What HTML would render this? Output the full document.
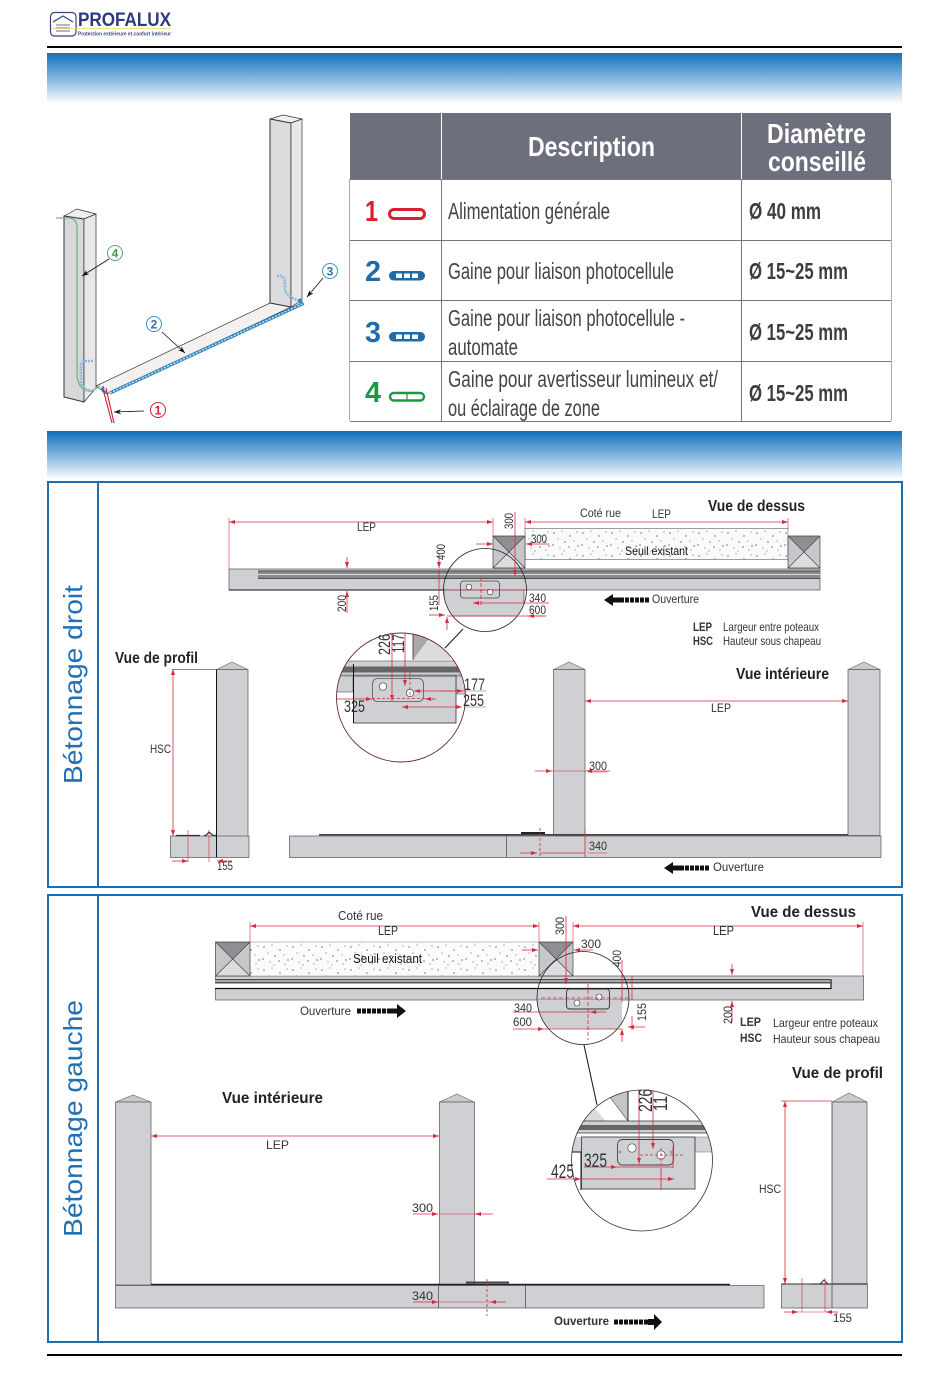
<!DOCTYPE html>
<html><head><meta charset="utf-8"><title>Profalux</title>
<style>
html,body{margin:0;padding:0;background:#fff;width:950px;height:1387px;overflow:hidden}
svg{display:block}
text{font-family:"Liberation Sans Narrow","Liberation Sans",sans-serif;fill:#222}
.w{font-family:"Liberation Sans",sans-serif}
.d{font-size:13px;fill:#333}
.s{font-size:12px;fill:#333}
.b{font-size:16px;font-weight:bold;fill:#222}
.t{font-size:23px;fill:#444}
.m{font-size:23px;font-weight:bold;fill:#3d3d40}
.h{font-size:28px;font-weight:bold;fill:#fff}
.n{font-size:29px;font-weight:bold;font-family:"Liberation Sans",sans-serif}
.r{stroke:#d62c3e;stroke-width:.8;fill:none}
.g{fill:#cfd0d3;stroke:#555;stroke-width:.7}
.k{fill:#cfd0d3;stroke:#222;stroke-width:1}
</style></head><body>
<svg width="950" height="1387" viewBox="0 0 950 1387" xmlns="http://www.w3.org/2000/svg">
<defs>
<linearGradient id="bar" x1="0" y1="0" x2="0" y2="1"><stop offset="0" stop-color="#1470ba"/><stop offset=".45" stop-color="#74aedb"/><stop offset="1" stop-color="#fbfdfe"/></linearGradient>
<marker id="a" markerUnits="userSpaceOnUse" markerWidth="7" markerHeight="5" refX="6" refY="2" orient="auto-start-reverse"><path d="M0,0L6,2L0,4z" fill="#d62c3e"/></marker>
<marker id="ak" markerUnits="userSpaceOnUse" markerWidth="8" markerHeight="6" refX="7" refY="2.5" orient="auto"><path d="M0,0L7,2.5L0,5L2,2.5z" fill="#111"/></marker>
<pattern id="st" width="29" height="23" patternUnits="userSpaceOnUse">
<g fill="#222"><circle cx="3" cy="4" r=".6"/><circle cx="11" cy="2" r=".45"/><circle cx="19" cy="7" r=".6"/><circle cx="26" cy="3" r=".45"/><circle cx="7" cy="10" r=".45"/><circle cx="14" cy="13" r=".6"/><circle cx="23" cy="12" r=".45"/><circle cx="27" cy="17" r=".6"/><circle cx="2" cy="16" r=".6"/><circle cx="9" cy="19" r=".45"/><circle cx="18" cy="18" r=".6"/><circle cx="24" cy="21" r=".45"/><circle cx="13" cy="22" r=".45"/></g></pattern>
<clipPath id="c1"><circle cx="485" cy="590" r="41.5"/></clipPath>
<clipPath id="c2"><circle cx="401" cy="697.5" r="64.5"/></clipPath>
<clipPath id="c3"><ellipse cx="583" cy="998" rx="46" ry="46.5"/></clipPath>
<clipPath id="c4"><circle cx="642" cy="1160.5" r="70.5"/></clipPath>
</defs>

<!-- header -->
<rect x="50.5" y="12.5" width="25.5" height="23.5" rx="4" fill="#fff" stroke="#34457f" stroke-width="1.2"/>
<path d="M53,22L63,16L73,22" fill="none" stroke="#34457f" stroke-width="1.2"/>
<path d="M56,25H70M56,28H70M56,31H70" stroke="#7d89ad" stroke-width="1.2"/>
<path d="M52,28.5H170" stroke="#e6da62" stroke-width=".8"/>
<text class="w" x="78" y="26" font-size="19.5" font-weight="bold" style="fill:#2b3a82" textLength="93" lengthAdjust="spacingAndGlyphs">PROFALUX</text>
<text class="w" x="78" y="35.5" font-size="5.4" font-weight="bold" style="fill:#3a4682" textLength="93" lengthAdjust="spacingAndGlyphs">Protection extérieure et confort intérieur</text>
<rect x="47" y="46" width="855" height="2" fill="#000"/>
<rect x="47" y="53" width="855" height="50" fill="url(#bar)"/>
<rect x="47" y="431" width="855" height="48" fill="url(#bar)"/>

<!-- isometric -->
<g stroke="#333" stroke-width=".7">
<path d="M96,386L270,303L291,307L107,394z" fill="#f3f0ef"/>
<path d="M270,119L283,115L302,119L291,123z" fill="#f0f0f0"/>
<path d="M270,119L291,123V307L270,303z" fill="#dcdcde" stroke-width="1"/>
<path d="M291,123L302,119V300L291,307z" fill="#e8e8ea"/>
<path d="M64,216L77,209L96,214L84,219z" fill="#eee"/>
<path d="M64,216L84,219V402L64,397z" fill="#d8d8da" stroke-width="1"/>
<path d="M84,219L96,214V388L84,402z" fill="#e8e8ea"/>
</g>
<path d="M56,218H70Q77,219 77,228V376Q79,392 92,391L100,386" fill="none" stroke="#6cb77f" stroke-width="1.3"/>
<path d="M93,361H84Q80,362 81,372V383Q84,391 94,391" fill="none" stroke="#8fb8d8" stroke-width="2.6" stroke-dasharray="2 1"/>
<path d="M277,276Q285,274 285,285V290Q287,297 300,301" fill="none" stroke="#8fb8d8" stroke-width="2.6" stroke-dasharray="2 1"/>
<path d="M110,393L302,304L299,299" fill="none" stroke="#2f86c2" stroke-width="3.4"/>
<path d="M110,393L302,304" fill="none" stroke="#cfe4f2" stroke-width="1.4" stroke-dasharray="2 1.5"/>
<path d="M104,387Q100,389 106,393" fill="none" stroke="#2f86c2" stroke-width="2.8"/>
<path d="M103,389L112,423M106,388L114,423" stroke="#c8202e" stroke-width="1.1" fill="none"/>
<g stroke="#111" stroke-width=".8" fill="none">
<path d="M109,259L82,276" marker-end="url(#ak)"/><path d="M162,332L185,353" marker-end="url(#ak)"/>
<path d="M323,278L307,297" marker-end="url(#ak)"/><path d="M144,411L114,412" marker-end="url(#ak)"/>
</g>
<g fill="#fff" stroke-width="1"><circle cx="115" cy="253" r="7.5" stroke="#58a868"/><circle cx="154" cy="324" r="7.5" stroke="#3f8fc4"/><circle cx="330" cy="271" r="7.5" stroke="#3f8fc4"/><circle cx="158" cy="410" r="7.5" stroke="#d0202e"/></g>
<g class="w" font-size="12" font-weight="bold" text-anchor="middle">
<text x="115" y="257.5" class="w" style="fill:#3e9b50">4</text><text x="154" y="328.5" class="w" style="fill:#2874a8">2</text><text x="330" y="275.5" class="w" style="fill:#2874a8">3</text><text x="158" y="414.5" class="w" style="fill:#d0202e">1</text></g>

<!-- table -->
<rect x="350" y="113" width="541" height="66" fill="#6d6f7c"/>
<g stroke="#777" stroke-width="1" fill="none">
<path d="M350,179.5H891M350,240.5H891M350,300.5H891M350,361.5H891M350,421.5H891"/>
<path d="M441.5,113V421M741.5,113V421"/>
<path d="M349.5,179V421M891.5,179V421" stroke="#aaa"/>
</g>
<path d="M441.5,113V179M741.5,113V179" stroke="#fff" stroke-width="1"/>
<text class="h" x="528" y="156" textLength="127" lengthAdjust="spacingAndGlyphs">Description</text>
<text class="h" x="767" y="143" textLength="99" lengthAdjust="spacingAndGlyphs">Diamètre</text>
<text class="h" x="768" y="171" textLength="98" lengthAdjust="spacingAndGlyphs">conseillé</text>
<text class="n" x="365" y="221" style="fill:#d9202f" textLength="13" lengthAdjust="spacingAndGlyphs">1</text>
<text class="n" x="365" y="281" style="fill:#1f6ba8" textLength="16" lengthAdjust="spacingAndGlyphs">2</text>
<text class="n" x="365" y="342" style="fill:#1f6ba8" textLength="16" lengthAdjust="spacingAndGlyphs">3</text>
<text class="n" x="365" y="402" style="fill:#189a44" textLength="16" lengthAdjust="spacingAndGlyphs">4</text>
<rect x="389.5" y="209.5" width="35" height="9" rx="4.5" fill="#fff" stroke="#d9202f" stroke-width="3"/>
<g fill="#1f6ba8"><rect x="389" y="271" width="36" height="9.5" rx="4.7"/><rect x="389" y="332" width="36" height="9.5" rx="4.7"/></g>
<g fill="#fff"><rect x="396" y="273.5" width="6" height="4.5"/><rect x="404" y="273.5" width="6" height="4.5"/><rect x="412" y="273.5" width="6" height="4.5"/><rect x="396" y="334.5" width="6" height="4.5"/><rect x="404" y="334.5" width="6" height="4.5"/><rect x="412" y="334.5" width="6" height="4.5"/></g>
<rect x="390" y="393" width="34" height="7.5" rx="3.7" fill="#fff" stroke="#189a44" stroke-width="2.4"/><path d="M407,393V400" stroke="#189a44" stroke-width="1.2"/>
<text class="t" x="448" y="219" textLength="162" lengthAdjust="spacingAndGlyphs">Alimentation générale</text>
<text class="t" x="448" y="279" textLength="226" lengthAdjust="spacingAndGlyphs">Gaine pour liaison photocellule</text>
<text class="t" x="448" y="326" textLength="237" lengthAdjust="spacingAndGlyphs">Gaine pour liaison photocellule -</text>
<text class="t" x="448" y="355" textLength="70" lengthAdjust="spacingAndGlyphs">automate</text>
<text class="t" x="448" y="387" textLength="270" lengthAdjust="spacingAndGlyphs">Gaine pour avertisseur lumineux et/</text>
<text class="t" x="448" y="416" textLength="152" lengthAdjust="spacingAndGlyphs">ou éclairage de zone</text>
<text class="m" x="749" y="219" textLength="72" lengthAdjust="spacingAndGlyphs">Ø 40 mm</text>
<text class="m" x="749" y="279" textLength="99" lengthAdjust="spacingAndGlyphs">Ø 15~25 mm</text>
<text class="m" x="749" y="340" textLength="99" lengthAdjust="spacingAndGlyphs">Ø 15~25 mm</text>
<text class="m" x="749" y="401" textLength="99" lengthAdjust="spacingAndGlyphs">Ø 15~25 mm</text>

<!-- section frames -->
<g fill="#fff" stroke="#1f6fb0" stroke-width="2">
<rect x="48" y="482" width="854" height="405"/><rect x="48" y="895" width="854" height="447"/></g>
<path d="M98,482V887M98,895V1342" stroke="#1f6fb0" stroke-width="2"/>
<rect x="47" y="1354" width="855" height="2" fill="#000"/>
<text class="w" transform="translate(82,784) rotate(-90)" font-size="26" style="fill:#2170b4" textLength="199" lengthAdjust="spacingAndGlyphs">Bétonnage droit</text>
<text class="w" transform="translate(82,1237) rotate(-90)" font-size="26" style="fill:#2170b4" textLength="237" lengthAdjust="spacingAndGlyphs">Bétonnage gauche</text>

<!-- ===== Section 1: top view ===== -->
<rect x="229" y="569" width="591" height="21" class="g"/>
<path d="M229,590H450" stroke="#111" stroke-width="1"/>
<rect x="258" y="570.5" width="562" height="8" fill="#8a8a8d"/>
<path d="M258,571H820M258,578.5H820" stroke="#333" stroke-width=".8"/><path d="M258,574.5H820" stroke="#ddd" stroke-width="1"/>
<rect x="525" y="528.5" width="263" height="31" fill="#fafafa" stroke="#777" stroke-width=".7"/><rect x="525" y="529" width="263" height="30" fill="url(#st)"/>
<path d="M493,536H525L509,552z" fill="#8f8f93"/><path d="M493,536L509,552L493,568zM525,536V568L509,552z" fill="#c6c7ca"/><path d="M493,568H525L509,552z" fill="#dddde0"/><path d="M493,536H525V568H493zM493,536L525,568M525,536L493,568" fill="none" stroke="#444" stroke-width=".7"/>
<path d="M788,536H820L804,552z" fill="#8f8f93"/><path d="M788,536L804,552L788,568zM820,536V568L804,552z" fill="#c6c7ca"/><path d="M788,568H820L804,552z" fill="#dddde0"/><path d="M788,536H820V568H788zM788,536L820,568M820,536L788,568" fill="none" stroke="#444" stroke-width=".7"/>
<g clip-path="url(#c1)"><rect x="444" y="590" width="80" height="26" class="g" stroke="none"/></g>
<rect x="460.5" y="581" width="39" height="17" rx="3" fill="none" stroke="#444" stroke-width=".8"/>
<circle cx="469" cy="587" r="2.8" fill="#fff" stroke="#333" stroke-width=".6"/><circle cx="490" cy="592" r="2.8" fill="#fff" stroke="#333" stroke-width=".6"/>
<circle cx="485" cy="590" r="41.5" fill="none" stroke="#222" stroke-width=".8"/>
<path d="M463,629L445,648" stroke="#111" stroke-width="1"/>
<g class="r">
<path d="M229,522H493" marker-start="url(#a)" marker-end="url(#a)"/><path d="M525,522H788" marker-start="url(#a)" marker-end="url(#a)"/>
<path d="M229,518V569M493,518V537M525,518V529M788,518V529" stroke-width=".6"/>
<path d="M515,512V576" marker-end="url(#a)"/><path d="M476,544H493" marker-end="url(#a)"/><path d="M549,544H526" marker-end="url(#a)"/>
<path d="M347,557V568" marker-end="url(#a)"/><path d="M347,613V591" marker-end="url(#a)"/>
<path d="M439,553V568" marker-end="url(#a)"/><path d="M439,605V569"/>
<path d="M429,615H445" marker-end="url(#a)"/><path d="M447,630V617" marker-end="url(#a)"/>
<path d="M450,590H526" stroke-dasharray="4 2"/><path d="M481,577V605" stroke-dasharray="4 2"/>
<path d="M473,603H490" marker-start="url(#a)"/><path d="M490,603H549M546,616H528" marker-end="url(#a)"/><path d="M447,616H546"/>
</g>
<text class="s" x="357" y="531" textLength="19" lengthAdjust="spacingAndGlyphs">LEP</text>
<text class="s" x="580" y="517" textLength="41" lengthAdjust="spacingAndGlyphs">Coté rue</text>
<text class="s" x="652" y="518" textLength="19" lengthAdjust="spacingAndGlyphs">LEP</text>
<text class="b" x="708" y="511" textLength="97" lengthAdjust="spacingAndGlyphs">Vue de dessus</text>
<text class="s" x="625" y="555" textLength="63" lengthAdjust="spacingAndGlyphs" style="fill:#111">Seuil existant</text>
<text class="s" x="531" y="543" textLength="16" lengthAdjust="spacingAndGlyphs">300</text>
<text class="s" x="529" y="602" textLength="17" lengthAdjust="spacingAndGlyphs">340</text>
<text class="s" x="529" y="614" textLength="17" lengthAdjust="spacingAndGlyphs">600</text>
<text class="s" transform="translate(513,529) rotate(-90)" textLength="16" lengthAdjust="spacingAndGlyphs">300</text>
<text class="s" transform="translate(445,560) rotate(-90)" textLength="16" lengthAdjust="spacingAndGlyphs">400</text>
<text class="s" transform="translate(346,612) rotate(-90)" textLength="17" lengthAdjust="spacingAndGlyphs">200</text>
<text class="s" transform="translate(438,611) rotate(-90)" textLength="16" lengthAdjust="spacingAndGlyphs">155</text>
<path d="M620,600H649" stroke="#111" stroke-width="5" stroke-dasharray="4 1"/><path d="M604,600L613,594V606z" fill="#111"/><path d="M612,597.5H620V602.5H612z" fill="#111"/>
<text class="s" x="652" y="603" textLength="47" lengthAdjust="spacingAndGlyphs" font-size="11">Ouverture</text>
<text class="s" x="693" y="631" font-weight="bold" textLength="19" lengthAdjust="spacingAndGlyphs">LEP</text>
<text class="s" x="723" y="631" textLength="96" lengthAdjust="spacingAndGlyphs">Largeur entre poteaux</text>
<text class="s" x="693" y="645" font-weight="bold" textLength="20" lengthAdjust="spacingAndGlyphs">HSC</text>
<text class="s" x="723" y="645" textLength="98" lengthAdjust="spacingAndGlyphs">Hauteur sous chapeau</text>

<!-- detail circle 1 -->
<g clip-path="url(#c2)">
<path d="M413,632H434L413,660z" fill="#a9a9ac"/><path d="M434,632L413,660H450V632z" fill="#dcdcde"/><path d="M413,632V660" stroke="#333" stroke-width=".8"/>
<rect x="335" y="661" width="132" height="14" fill="#cfd0d3" stroke="#555" stroke-width=".6"/>
<rect x="335" y="666.5" width="132" height="6" fill="#666"/>
<rect x="335" y="676" width="18" height="16" fill="#cfd0d3" stroke="#555" stroke-width=".6"/>
<rect x="456" y="676" width="12" height="18" fill="#d4d4d6" stroke="#555" stroke-width=".6"/>
<rect x="353.5" y="676" width="102.5" height="47" fill="#cfd0d3" stroke="#333" stroke-width=".8"/>
<rect x="372.5" y="678.5" width="51" height="23" rx="5" fill="#cfd0d3" stroke="#555" stroke-width=".8"/>
<circle cx="383" cy="686.5" r="3.7" fill="#fff" stroke="#444" stroke-width=".7"/><circle cx="410" cy="693" r="3.7" fill="#fff" stroke="#444" stroke-width=".7"/>
<path d="M353.5,664V723" stroke="#111" stroke-width="1"/>
<g class="r">
<path d="M392,633V701" marker-end="url(#a)"/><path d="M405,633V686" marker-end="url(#a)"/>
<path d="M410,672V696" stroke-dasharray="3 2"/><path d="M372,698.5H433" stroke-dasharray="3 2" /><path d="M436,699H425" marker-end="url(#a)"/>
<path d="M336,699H372" marker-end="url(#a)"/>
<path d="M466,691H414" marker-end="url(#a)"/><path d="M440,691H463" marker-end="url(#a)"/><path d="M402,707H462" marker-start="url(#a)" marker-end="url(#a)"/>
</g>
</g>
<circle cx="401" cy="697.5" r="64.5" fill="none" stroke="#6a2430" stroke-width=".9"/>
<path d="M466,691H486M465,707H486" stroke="#999" stroke-width=".7"/>
<text class="d" style="font-size:17px" x="344" y="712" textLength="21" lengthAdjust="spacingAndGlyphs">325</text>
<text class="d" style="font-size:17px" x="464" y="690" textLength="21" lengthAdjust="spacingAndGlyphs">177</text>
<text class="d" style="font-size:17px" x="463" y="706" textLength="21" lengthAdjust="spacingAndGlyphs">255</text>
<text class="d" style="font-size:17px" transform="translate(390,655) rotate(-90)" textLength="21" lengthAdjust="spacingAndGlyphs">226</text>
<text class="d" style="font-size:17px" transform="translate(404,653) rotate(-90)" textLength="19" lengthAdjust="spacingAndGlyphs">117</text>

<!-- profile 1 -->
<path d="M216.5,669.5L232,662L248,669.5z" fill="#c9cacd" stroke="#666" stroke-width=".6"/>
<rect x="216.5" y="669.5" width="31.5" height="167" class="g"/>
<rect x="170.5" y="836" width="78.5" height="21.5" class="g"/>
<path d="M216.5,669.5V857" stroke="#111" stroke-width="1"/>
<path d="M176,835.5H200M204,835.5H206L209,832L213,835.5H216" fill="none" stroke="#333" stroke-width="1.2"/>
<g class="r"><path d="M216,669.5H172" stroke-width=".7"/><path d="M173,669V836" marker-start="url(#a)" marker-end="url(#a)"/>
<path d="M172,861H188" marker-end="url(#a)"/><path d="M232,861H217" marker-end="url(#a)"/>
<path d="M188,830V862M209,830V862" stroke-width=".6"/></g>
<text class="s" x="150" y="753" textLength="21" lengthAdjust="spacingAndGlyphs">HSC</text>
<text class="b" x="115" y="663" textLength="83" lengthAdjust="spacingAndGlyphs">Vue de profil</text>
<text class="s" x="217" y="870" textLength="16" lengthAdjust="spacingAndGlyphs">155</text>

<!-- interior 1 -->
<path d="M553.5,669.5L569,662L585,669.5z" fill="#c9cacd" stroke="#666" stroke-width=".6"/>
<path d="M848,669.5L864,662L880,669.5z" fill="#c9cacd" stroke="#666" stroke-width=".6"/>
<rect x="553.5" y="669.5" width="31.5" height="166" class="g"/><rect x="848" y="669.5" width="32" height="166" class="g"/>
<rect x="289.5" y="836" width="591.5" height="21.5" class="g"/>
<path d="M319,834.8H848" stroke="#444" stroke-width="1.6"/><path d="M521,833H545" stroke="#222" stroke-width="2"/>
<path d="M506.5,836V857" stroke="#555" stroke-width=".8"/>
<g class="r"><path d="M585,701H848" marker-start="url(#a)" marker-end="url(#a)"/><path d="M535,771H552" marker-end="url(#a)"/><path d="M610,771H586" marker-end="url(#a)"/><path d="M552,771H586" stroke-width=".6"/>
<path d="M588,772H607M588,853H607" stroke-width=".6"/>
<path d="M520,853H537" marker-end="url(#a)"/><path d="M540,853H585" stroke-width=".7"/><path d="M540,828V857" stroke-dasharray="3 2"/><path d="M585,830V857"/></g>
<text class="s" x="711" y="712" textLength="20" lengthAdjust="spacingAndGlyphs">LEP</text>
<text class="s" x="589" y="770" textLength="18" lengthAdjust="spacingAndGlyphs">300</text>
<text class="s" x="589" y="850" textLength="18" lengthAdjust="spacingAndGlyphs">340</text>
<text class="b" x="736" y="679" textLength="93" lengthAdjust="spacingAndGlyphs">Vue intérieure</text>
<path d="M680,868H710" stroke="#111" stroke-width="5" stroke-dasharray="4 1"/><path d="M664,868L673,862V874z" fill="#111"/><path d="M672,865.5H680V870.5H672z" fill="#111"/>
<text class="s" x="713" y="871" textLength="51" lengthAdjust="spacingAndGlyphs">Ouverture</text>

<!-- ===== Section 2: top view ===== -->
<rect x="215.5" y="976" width="648" height="24" class="g"/>
<rect x="215" y="979" width="616" height="10" fill="#fff"/>
<path d="M215,979.8H831V988.5H215" fill="none" stroke="#111" stroke-width="1.2"/><path d="M215,982.5H831" stroke="#555" stroke-width="2"/>
<rect x="250" y="942" width="289" height="34" fill="#fbfbfb"/><rect x="250" y="942" width="289" height="34" fill="url(#st)"/>
<path d="M250,942H539M250,976H539" stroke="#888" stroke-width=".5"/>
<path d="M215.5,942H250L233,959z" fill="#8f8f93"/><path d="M215.5,942L233,959L215.5,976zM250,942V976L233,959z" fill="#c6c7ca"/><path d="M215.5,976H250L233,959z" fill="#dddde0"/><path d="M215.5,942H250V976H215.5zM215.5,942L250,976M250,942L215.5,976" fill="none" stroke="#444" stroke-width=".7"/>
<path d="M539,942H573L556,959z" fill="#8f8f93"/><path d="M539,942L556,959L539,976zM573,942V976L556,959z" fill="#c6c7ca"/><path d="M539,976H573L556,959z" fill="#dddde0"/><path d="M539,942H573V976H539zM539,942L573,976M573,942L539,976" fill="none" stroke="#444" stroke-width=".7"/>
<g clip-path="url(#c3)"><rect x="536" y="1000" width="86" height="29" fill="#cfd0d3"/></g>
<rect x="566.5" y="989" width="43" height="20" rx="3" fill="none" stroke="#333" stroke-width=".9"/>
<circle cx="577" cy="1003" r="3" fill="#fff" stroke="#333" stroke-width=".6"/><circle cx="599" cy="997" r="3" fill="#fff" stroke="#333" stroke-width=".6"/>
<ellipse cx="583" cy="998" rx="46" ry="46.5" fill="none" stroke="#222" stroke-width=".8"/>
<path d="M584,1045L597,1105" stroke="#111" stroke-width="1"/>
<g class="r">
<path d="M250,926H539" marker-start="url(#a)" marker-end="url(#a)"/><path d="M573,926H863" marker-start="url(#a)" marker-end="url(#a)"/>
<path d="M250,922V942M539,922V942M573,922V942M863,922V976" stroke-width=".6"/>
<path d="M566,916V984" marker-end="url(#a)"/><path d="M522,950H538" marker-end="url(#a)"/><path d="M593,950H574" marker-end="url(#a)"/>
<path d="M732,964V975" marker-end="url(#a)"/><path d="M732,1022V1001" marker-end="url(#a)"/>
<path d="M622,960V1002M632,976V1000M632,1030V1016"/><path d="M622,1042V1029" marker-end="url(#a)"/><path d="M645,1027H628" marker-end="url(#a)"/>
<path d="M541,998H629" stroke-dasharray="4 2"/><path d="M588,984V1040" stroke-dasharray="4 2"/>
<path d="M513,1012H606" /><path d="M598,1012H590" marker-end="url(#a)"/><path d="M513,1029H544" marker-end="url(#a)"/><path d="M544,1029H622" stroke-width=".7"/>
</g>
<text class="d" x="338" y="920" textLength="45" lengthAdjust="spacingAndGlyphs">Coté rue</text>
<text class="d" x="378" y="935" textLength="20" lengthAdjust="spacingAndGlyphs">LEP</text>
<text class="d" x="713" y="935" textLength="21" lengthAdjust="spacingAndGlyphs">LEP</text>
<text class="b" x="751" y="917" textLength="105" lengthAdjust="spacingAndGlyphs">Vue de dessus</text>
<text class="d" x="353" y="963" textLength="69" lengthAdjust="spacingAndGlyphs" style="fill:#111">Seuil existant</text>
<text class="s" x="581" y="948" textLength="20" lengthAdjust="spacingAndGlyphs">300</text>
<text class="s" x="514" y="1012" textLength="18" lengthAdjust="spacingAndGlyphs">340</text>
<text class="s" x="513" y="1026" textLength="19" lengthAdjust="spacingAndGlyphs">600</text>
<text class="s" transform="translate(564,935) rotate(-90)" textLength="18" lengthAdjust="spacingAndGlyphs">300</text>
<text class="s" transform="translate(621,967) rotate(-90)" textLength="17" lengthAdjust="spacingAndGlyphs">400</text>
<text class="s" transform="translate(646,1021) rotate(-90)" textLength="18" lengthAdjust="spacingAndGlyphs">155</text>
<text class="s" transform="translate(732,1024) rotate(-90)" textLength="18" lengthAdjust="spacingAndGlyphs">200</text>
<text class="s" x="300" y="1015" textLength="51" lengthAdjust="spacingAndGlyphs">Ouverture</text>
<path d="M357,1011H391" stroke="#111" stroke-width="5" stroke-dasharray="4 1"/><path d="M406,1011L397,1004V1018z" fill="#111"/><path d="M390,1008.5H398V1013.5H390z" fill="#111"/>
<text class="s" x="740" y="1026" textLength="21" lengthAdjust="spacingAndGlyphs" font-weight="bold">LEP</text>
<text class="s" x="773" y="1027" textLength="105" lengthAdjust="spacingAndGlyphs">Largeur entre poteaux</text>
<text class="s" x="740" y="1042" textLength="22" lengthAdjust="spacingAndGlyphs" font-weight="bold">HSC</text>
<text class="s" x="773" y="1043" textLength="107" lengthAdjust="spacingAndGlyphs">Hauteur sous chapeau</text>

<!-- detail circle 2 -->
<g clip-path="url(#c4)">
<path d="M560,1121L606,1121L586,1098L570,1090z" fill="#dcdcde"/><path d="M606,1092L628,1121V1090z" fill="#c5c5c8" stroke="#444" stroke-width=".6"/><path d="M628,1090V1121" stroke="#222"/>
<path d="M570,1121H720V1133H570z" fill="#cfd0d3" stroke="#333" stroke-width=".8"/><rect x="570" y="1125" width="150" height="5" fill="#666"/>
<rect x="570" y="1137" width="12" height="15" fill="#d4d4d6"/><rect x="695" y="1137" width="20" height="15" fill="#d4d4d6" stroke="#777" stroke-width=".5"/>
<path d="M565,1152H581V1190" fill="none" stroke="#111" stroke-width="1"/>
<rect x="581.5" y="1137" width="113.5" height="52" fill="#cfd0d3" stroke="#333" stroke-width=".8"/>
<rect x="617.5" y="1139.5" width="56" height="25.5" rx="5" fill="#cfd0d3" stroke="#444" stroke-width=".9"/>
<circle cx="632" cy="1148" r="4.2" fill="#fff" stroke="#444" stroke-width=".7"/><circle cx="661" cy="1155" r="4.2" fill="#fff" stroke="#444" stroke-width=".7"/>
<circle cx="620" cy="1152" r="1.1" fill="none" stroke="#555" stroke-width=".5"/><circle cx="671" cy="1152" r="1.1" fill="none" stroke="#555" stroke-width=".5"/>
<g class="r"><path d="M639,1090V1164" marker-end="url(#a)"/><path d="M653,1090V1149" marker-end="url(#a)"/>
<path d="M661,1148V1186" stroke-dasharray="3 2"/><path d="M640,1155H683" stroke-dasharray="3 2" stroke-width=".8"/>
<path d="M584,1167H617" marker-end="url(#a)"/><path d="M617,1167H673"/><path d="M673,1146V1168"/>
<path d="M547,1179H581" marker-end="url(#a)"/><path d="M581,1179H674" marker-end="url(#a)"/><path d="M661,1170V1190"/></g>
</g>
<circle cx="642" cy="1160.5" r="70.5" fill="none" stroke="#333" stroke-width=".8"/>
<path d="M547,1179H574" stroke="#d62c3e" stroke-width=".8"/>
<text class="d" style="font-size:19px" x="584" y="1167" textLength="23" lengthAdjust="spacingAndGlyphs">325</text>
<text class="d" style="font-size:19px" x="551" y="1178" textLength="23" lengthAdjust="spacingAndGlyphs">425</text>
<text class="d" style="font-size:19px" transform="translate(652,1112) rotate(-90)" textLength="23" lengthAdjust="spacingAndGlyphs">226</text>
<text class="d" style="font-size:19px" transform="translate(667,1111) rotate(-90)" textLength="15" lengthAdjust="spacingAndGlyphs">11</text>

<!-- interior 2 -->
<path d="M115.5,1102L133,1095L151,1102z" fill="#c9cacd" stroke="#666" stroke-width=".6"/>
<path d="M439.5,1102L457,1094L474,1102z" fill="#c9cacd" stroke="#666" stroke-width=".6"/>
<rect x="115.5" y="1102" width="35.5" height="183" class="g"/><rect x="439.5" y="1102" width="35" height="183" class="g"/>
<rect x="115.5" y="1285.5" width="648.5" height="22.5" class="g"/>
<path d="M151,1284.5H730" stroke="#222" stroke-width="1.6"/><path d="M466,1282.5H509" stroke="#444" stroke-width="2"/>
<path d="M525.5,1285V1308M438.5,1285V1308" stroke="#555" stroke-width=".8"/>
<g class="r"><path d="M151,1136H439" marker-start="url(#a)" marker-end="url(#a)"/>
<path d="M413,1214H438" marker-end="url(#a)"/><path d="M493,1214H475" marker-end="url(#a)"/><path d="M439,1214H475" stroke-width=".6"/>
<path d="M413,1302H438" marker-end="url(#a)"/><path d="M506,1302H490" marker-end="url(#a)"/><path d="M439,1302H490" stroke-width=".6"/>
<path d="M487,1279V1316" stroke-dasharray="3 2"/></g>
<text class="s" x="266" y="1149" textLength="23" lengthAdjust="spacingAndGlyphs">LEP</text>
<text class="s" x="412" y="1212" textLength="21" lengthAdjust="spacingAndGlyphs">300</text>
<text class="s" x="412" y="1300" textLength="21" lengthAdjust="spacingAndGlyphs">340</text>
<text class="b" x="222" y="1103" textLength="101" lengthAdjust="spacingAndGlyphs">Vue intérieure</text>
<text class="s" x="554" y="1325" textLength="55" lengthAdjust="spacingAndGlyphs" font-weight="bold">Ouverture</text>
<path d="M614,1322H649" stroke="#111" stroke-width="5" stroke-dasharray="4 1"/><path d="M662,1322L654,1314V1330z" fill="#111"/><path d="M648,1319H655V1325H648z" fill="#111"/>

<!-- profile 2 -->
<path d="M832,1102L849,1093L867,1102z" fill="#c9cacd" stroke="#666" stroke-width=".6"/>
<rect x="832" y="1102" width="35" height="182" class="g"/>
<rect x="781.5" y="1284" width="86" height="24" class="g"/>
<path d="M781.5,1284H867" stroke="#111" stroke-width="1"/><path d="M832,1102V1308" stroke="#555" stroke-width=".8"/>
<path d="M786,1284H812M820,1284L824,1280L828,1284" fill="none" stroke="#333" stroke-width="1"/>
<g class="r"><path d="M781,1101H832" stroke-width=".7"/><path d="M785,1101V1284" marker-start="url(#a)" marker-end="url(#a)"/>
<path d="M784,1312H798" marker-end="url(#a)"/><path d="M838,1312H826" marker-end="url(#a)"/><path d="M798,1312H826" stroke-width=".6"/>
<path d="M802,1278V1312M825,1278V1312" stroke-width=".6"/></g>
<text class="s" x="759" y="1193" textLength="22" lengthAdjust="spacingAndGlyphs">HSC</text>
<text class="b" x="792" y="1078" textLength="91" lengthAdjust="spacingAndGlyphs">Vue de profil</text>
<text class="s" x="833" y="1322" textLength="19" lengthAdjust="spacingAndGlyphs">155</text>
</svg>
</body></html>
